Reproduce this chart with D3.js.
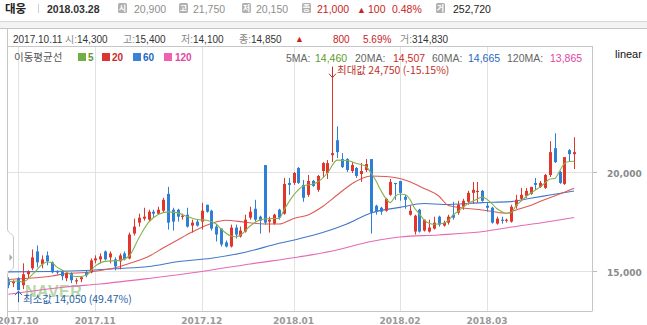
<!DOCTYPE html>
<html><head><meta charset="utf-8">
<script src="https://cdn.jsdelivr.net/npm/d3@7"></script>
<style>html,body{margin:0;padding:0;background:#fff;}svg{display:block;}</style>
</head><body>
<svg id="c" width="647" height="325"></svg>
<script>
// ---------------- DATA ----------------
const dates = [
"2017.09.28","2017.09.29",
"2017.10.10","2017.10.11","2017.10.12","2017.10.13","2017.10.16","2017.10.17","2017.10.18","2017.10.19","2017.10.20","2017.10.23","2017.10.24","2017.10.25","2017.10.26","2017.10.27","2017.10.30","2017.10.31",
"2017.11.01","2017.11.02","2017.11.03","2017.11.06","2017.11.07","2017.11.08","2017.11.09","2017.11.10","2017.11.13","2017.11.14","2017.11.15","2017.11.16","2017.11.17","2017.11.20","2017.11.21","2017.11.22","2017.11.23","2017.11.24","2017.11.27","2017.11.28","2017.11.29","2017.11.30",
"2017.12.01","2017.12.04","2017.12.05","2017.12.06","2017.12.07","2017.12.08","2017.12.11","2017.12.12","2017.12.13","2017.12.14","2017.12.15","2017.12.18","2017.12.19","2017.12.20","2017.12.21","2017.12.22","2017.12.26","2017.12.27","2017.12.28",
"2018.01.02","2018.01.03","2018.01.04","2018.01.05","2018.01.08","2018.01.09","2018.01.10","2018.01.11","2018.01.12","2018.01.15","2018.01.16","2018.01.17","2018.01.18","2018.01.19","2018.01.22","2018.01.23","2018.01.24","2018.01.25","2018.01.26","2018.01.29","2018.01.30","2018.01.31",
"2018.02.01","2018.02.02","2018.02.05","2018.02.06","2018.02.07","2018.02.08","2018.02.09","2018.02.12","2018.02.13","2018.02.14","2018.02.19","2018.02.20","2018.02.21","2018.02.22","2018.02.23","2018.02.26","2018.02.27","2018.02.28",
"2018.03.02","2018.03.05","2018.03.06","2018.03.07","2018.03.08","2018.03.09","2018.03.12","2018.03.13","2018.03.14","2018.03.15","2018.03.16","2018.03.19","2018.03.20","2018.03.21","2018.03.22","2018.03.23","2018.03.26","2018.03.27","2018.03.28"
];
const openP = [
14550,14400,14650,14300,14850,15150,16000,15350,15800,15450,15000,15000,14650,14900,14500,14600,14950,14950,
15550,15600,16000,15700,15600,15500,15900,15650,16900,17450,17650,17600,18000,17900,18050,18900,18100,18100,17750,17850,17300,17500,
17500,18350,18050,17250,17150,16450,16250,17200,16750,17000,17700,18150,17750,20350,17500,17400,18100,17900,19450,
19450,20200,19350,18850,19550,19100,20050,19950,20850,21600,20650,20650,20050,20200,19900,20100,20650,18300,18200,18050,18850,19450,
19550,18750,17850,17000,18100,17050,17000,17150,17750,17300,17450,17850,17950,18250,18500,18950,19000,19050,
18300,18200,17400,17600,17550,17500,18300,18650,18800,18900,19450,19250,19200,19850,21200,20000,19400,21100,20900
];
const highP = [
14700,14550,14700,15400,15050,16100,16300,15800,16000,15500,15050,15050,15000,14950,14650,14750,15050,15650,
15800,15900,16050,16000,15700,15900,16000,16950,17650,17900,18200,18100,18100,18250,18700,19250,18200,18150,17900,18200,17600,17600,
18450,18350,18100,17350,17150,16550,17350,17350,17250,17850,18250,18600,17800,20350,17750,17900,18150,19700,19700,
20000,20250,19600,19850,19600,19850,20500,20600,24750,22300,20950,20700,20500,20250,20450,20650,20650,18350,18250,18700,19650,19450,
19550,18850,18300,17850,18150,17600,17600,17750,17800,17550,17850,18500,18550,18650,19050,19500,19500,19100,
18450,18250,17750,17750,17650,18350,18850,19200,19200,19250,19700,19550,19900,21550,21950,20050,20750,21150,21750
];
const lowP = [
14150,14200,14050,14100,14650,15050,15200,15150,15300,14900,14850,14550,14500,14400,14350,14450,14700,14900,
15400,15400,15550,15400,15050,15100,15550,15600,16800,17250,17550,17500,17700,17850,17950,17100,17050,17500,17600,17200,16950,17250,
17100,17950,17050,16500,16250,16200,16200,16650,16700,16950,17600,17500,16900,17350,16950,17350,17600,17850,18850,
19350,19400,18500,18750,19250,19000,19700,19650,20500,20700,20200,20000,19950,19700,19500,20000,16900,17850,17850,18000,18800,18600,
18550,18150,17800,16850,16950,17000,16950,17100,17250,17250,17350,17600,17850,18100,18350,18400,18450,18500,
18000,17400,17350,17400,17450,17450,18150,18600,18700,18850,19100,19200,19150,19750,20450,19400,19350,20500,20150
];
const closeP = [
14300,14500,14050,14850,15000,15700,15450,15600,15500,14950,14950,14750,14900,14550,14550,14700,14800,15550,
15650,15750,15600,15900,15250,15800,15600,16850,17250,17700,17750,18000,17900,18100,18600,17450,17500,17750,17800,17250,17450,17300,
18050,18000,17150,16850,16350,16250,17200,16850,17050,17600,18000,17600,17550,17450,17600,17850,17700,19400,19350,
19950,19450,18700,19550,19300,19800,20450,20450,20950,21000,20250,20100,20350,19800,20050,20400,17950,18000,18000,18650,19500,19400,
18950,18600,18050,17800,17000,17600,17200,17450,17350,17450,17750,17700,18350,18550,18950,19100,19050,18550,
18200,17450,17650,17550,17600,18250,18600,18850,19050,19250,19350,19450,19850,21000,20500,19450,20750,20900,21000
];

const ma5 = [
["2017.09.28",14480],["2017.10.10",14510],["2017.10.11",14460],["2017.10.13",14840],["2017.10.17",15340],["2017.10.18",15470],["2017.10.19",15440],["2017.10.20",15220],["2017.10.24",14960],["2017.10.26",14730],["2017.10.30",14790],
["2017.11.01",15270],["2017.11.03",15500],["2017.11.08",15550],["2017.11.10",15770],["2017.11.14",16680],["2017.11.16",17460],["2017.11.20",17860],["2017.11.22",17990],["2017.11.24",17940],["2017.11.28",17760],["2017.11.30",17610],
["2017.12.04",17570],["2017.12.06",17380],["2017.12.07",17130],["2017.12.11",16780],["2017.12.12",16740],["2017.12.13",16830],["2017.12.15",17280],["2017.12.19",17580],["2017.12.21",17660],["2017.12.26",17660],["2017.12.27",18090],
["2018.01.02",18840],["2018.01.04",19300],["2018.01.08",19400],["2018.01.09",19500],["2018.01.11",19950],["2018.01.15",20600],["2018.01.17",20580],["2018.01.19",20430],["2018.01.23",20280],["2018.01.24",19950],["2018.01.25",19570],["2018.01.26",19090],["2018.01.29",18690],["2018.01.30",18460],["2018.01.31",18770],
["2018.02.01",18890],["2018.02.02",18870],["2018.02.05",18640],["2018.02.06",18190],["2018.02.07",17890],["2018.02.08",17580],["2018.02.12",17370],["2018.02.14",17420],["2018.02.19",17560],["2018.02.20",17840],["2018.02.21",18010],["2018.02.23",18410],["2018.02.27",18640],["2018.02.28",18740],
["2018.03.02",18620],["2018.03.05",18410],["2018.03.06",18160],["2018.03.07",18010],["2018.03.08",17920],["2018.03.09",17960],["2018.03.12",18310],["2018.03.13",18520],["2018.03.14",18740],["2018.03.15",18930],["2018.03.16",19090],["2018.03.19",19250],["2018.03.20",19450],["2018.03.21",19650],["2018.03.22",19670],["2018.03.23",20050],["2018.03.26",20430],["2018.03.27",20530],["2018.03.28",20540]
];
const ma20 = [
["2017.09.28",14590],["2017.10.13",14660],["2017.10.19",14760],["2017.10.24",14890],["2017.10.30",14940],["2017.11.02",15040],["2017.11.08",15230],["2017.11.13",15470],["2017.11.16",15750],["2017.11.21",16170],["2017.11.24",16580],["2017.11.29",16980],
["2017.12.05",17410],["2017.12.08",17570],["2017.12.14",17470],["2017.12.20",17380],["2017.12.26",17380],["2018.01.02",17660],["2018.01.05",17840],["2018.01.10",18260],["2018.01.15",18840],["2018.01.18",19400],["2018.01.24",19800],["2018.01.29",19770],
["2018.02.02",19600],["2018.02.08",19170],["2018.02.13",18790],["2018.02.19",18310],["2018.02.22",18190],["2018.02.28",18090],["2018.03.07",17940],["2018.03.08",17920],["2018.03.12",18090],["2018.03.15",18310],["2018.03.20",18620],["2018.03.23",18890],["2018.03.28",19180]
];
const ma60 = [
["2017.09.28",14970],["2017.10.19",14990],["2017.10.30",15040],["2017.11.08",15140],["2017.11.16",15240],["2017.11.24",15480],["2017.12.05",15660],["2017.12.14",15960],["2017.12.26",16410],
["2018.01.03",16630],["2018.01.10",16950],["2018.01.17",17380],["2018.01.24",17940],["2018.02.01",18220],["2018.02.08",18410],["2018.02.14",18360],["2018.02.28",18460],["2018.03.09",18510],["2018.03.15",18680],["2018.03.21",18840],["2018.03.28",19040]
];
const ma120 = [
["2017.09.28",13840],["2017.10.13",14010],["2017.10.24",14210],["2017.11.02",14360],["2017.11.16",14640],["2017.12.01",14990],["2017.12.15",15370],["2018.01.03",15720],
["2018.01.12",16020],["2018.01.24",16500],["2018.02.01",16730],["2018.02.13",16830],["2018.03.02",17030],["2018.03.09",17230],["2018.03.19",17430],["2018.03.28",17710]
];
const monthLabels = ["2017.10","2017.11","2017.12","2018.01","2018.02","2018.03"];
const priceTicks = [15000, 20000];
const maNames = ["5","20","60","120"];
const maLegendValues = [14460, 14507, 14665, 13865];   // MA values shown for 2017.10.11
const infoDate = "2017.10.11";
const infoVolume = 314830;
const lastVolume = 252720;
const stockName = "대웅";

// ---------------- LAYOUT ----------------
const W = 647, H = 325;
const L = 7, R = 592, T = 46, B = 311;
const FONT = "'Liberation Sans','Noto Sans CJK KR',sans-serif";
const KFONT = "'Noto Sans CJK KR','Liberation Sans',sans-serif";
const UP = "#e0362c", DOWN = "#2f7fd6";
const maColors = ["#86b24e", "#de5a55", "#3f78c9", "#e46ab6"];
const maTextColors = ["#5e9a2c", "#cc2a26", "#1f68c0", "#e0469f"];
const legendSq = ["#72ad45", "#dd3530", "#3a82d8", "#f062b0"];

const svg = d3.select("#c");
const fmt = d3.format(",");

const x = d3.scaleLinear().domain([-0.27, 120.7]).range([L, R]);
const y = d3.scaleLinear().domain([13000, 26345]).range([B, T]);
const idx = d => dates.indexOf(d);

function text(g, xx, yy, s, o = {}) {
  return g.append("text").attr("x", xx).attr("y", yy).text(s)
    .attr("font-family", o.family || FONT).attr("font-size", o.size || 10)
    .attr("font-weight", o.weight || "normal").attr("fill", o.fill || "#333")
    .attr("text-anchor", o.anchor || "start");
}

// ---------------- HEADER ----------------
const hd = svg.append("g");
text(hd, 5, 13, stockName, {family: KFONT, size: 11.5, weight: "bold", fill: "#222"});
hd.append("line").attr("x1", 38.5).attr("x2", 38.5).attr("y1", 4).attr("y2", 13).attr("stroke", "#d0d0d0");
const lastI = dates.length - 1;
text(hd, 47, 12.5, dates[lastI], {size: 10.5, weight: "bold", fill: "#333"});
function box(xx, ch) {
  hd.append("rect").attr("x", xx).attr("y", 3).attr("width", 9).attr("height", 10).attr("rx", 1.5).attr("fill", "#b0b0b0");
  text(hd, xx + 4.5, 11.3, ch, {family: KFONT, size: 8, fill: "#fff", anchor: "middle", weight: "bold"});
}
box(118, "시"); text(hd, 134, 12.5, fmt(openP[lastI]), {size: 10.5, fill: "#8e8e8e"});
box(179, "고"); text(hd, 193, 12.5, fmt(highP[lastI]), {size: 10.5, fill: "#8e8e8e"});
box(242, "저"); text(hd, 256, 12.5, fmt(lowP[lastI]), {size: 10.5, fill: "#8e8e8e"});
box(302, "종"); text(hd, 317, 12.5, fmt(closeP[lastI]), {size: 10.5, fill: "#c8231d"});
const chg = closeP[lastI] - closeP[lastI - 1];
text(hd, 357, 12.5, "▲", {size: 9, fill: "#c8231d"});
text(hd, 368, 12.5, fmt(chg), {size: 10.5, fill: "#c8231d"});
text(hd, 392, 12.5, (chg / closeP[lastI - 1] * 100).toFixed(2) + "%", {size: 10.5, fill: "#c8231d"});
box(436, "거"); text(hd, 453, 12.5, fmt(lastVolume), {size: 10.5, fill: "#222"});

// separator band
svg.append("rect").attr("x", 0).attr("y", 21).attr("width", W).attr("height", 7).attr("fill", "#f3f3f3");
svg.append("line").attr("x1", 0).attr("x2", W).attr("y1", 21.5).attr("y2", 21.5).attr("stroke", "#d6d6d6");
svg.append("line").attr("x1", 0).attr("x2", W).attr("y1", 28.5).attr("y2", 28.5).attr("stroke", "#c4c4c4");

// info bar for 2017.10.11
const ib = svg.append("g");
const ii = idx(infoDate);
text(ib, 13, 42.5, infoDate, {size: 10, fill: "#333"});
const infoSeg = [["시", openP[ii]], ["고", highP[ii]], ["저", lowP[ii]], ["종", closeP[ii]]];
infoSeg.forEach((s, k) => {
  const t = text(ib, 65 + k * 58, 42.5, "", {size: 10, fill: "#333"});
  t.append("tspan").attr("fill", "#888").attr("font-family", KFONT).text(s[0]);
  t.append("tspan").attr("fill", "#888").text(":");
  t.append("tspan").text(fmt(s[1]));
});
const ichg = closeP[ii] - closeP[ii - 1];
text(ib, 295, 42, "▲", {size: 9, fill: "#d0201c"});
text(ib, 333, 42.5, fmt(ichg), {size: 10, fill: "#c8231d"});
text(ib, 363, 42.5, (ichg / closeP[ii - 1] * 100).toFixed(2) + "%", {size: 10, fill: "#c8231d"});
{
  const t = text(ib, 400, 42.5, "", {size: 10, fill: "#333"});
  t.append("tspan").attr("fill", "#888").attr("font-family", KFONT).text("거");
  t.append("tspan").attr("fill", "#888").text(":");
  t.append("tspan").text(fmt(infoVolume));
}

// ---------------- GRID + FRAME ----------------
const grid = svg.append("g");
const monthIdx = monthLabels.map(m => dates.findIndex(d => d.startsWith(m)));
monthIdx.forEach(i => {
  const xx = Math.round(x(i)) + 0.5;
  grid.append("line").attr("x1", xx).attr("x2", xx).attr("y1", T).attr("y2", B).attr("stroke", "#e2e2e2");
});
priceTicks.forEach(p => {
  const yy = Math.round(y(p)) + 0.5;
  grid.append("line").attr("x1", L).attr("x2", R).attr("y1", yy).attr("y2", yy).attr("stroke", "#e2e2e2");
  grid.append("line").attr("x1", R).attr("x2", R + 5).attr("y1", yy).attr("y2", yy).attr("stroke", "#bcbcbc");
  text(grid, 607, yy + 4.5, fmt(p), {family: "'DejaVu Sans',sans-serif", size: 9, weight: "bold", fill: "#8a8a8a"});
});
monthLabels.forEach((m, k) => {
  text(grid, x(monthIdx[k]), 324, m, {family: "'DejaVu Sans',sans-serif", size: 9, weight: "bold", fill: "#999", anchor: "middle"});
});
const frame = svg.append("g").attr("fill", "none").attr("stroke", "#c6c6c6");
frame.append("line").attr("x1", L).attr("x2", R).attr("y1", T + 0.5).attr("y2", T + 0.5);
frame.append("line").attr("x1", R + 0.5).attr("x2", R + 0.5).attr("y1", T).attr("y2", B);
frame.append("line").attr("x1", L).attr("x2", R + 0.5).attr("y1", B + 0.5).attr("y2", B + 0.5);
frame.append("path").attr("d", `M${L+0.5},28 V229 C${L+0.5},234 13.5,233 13.5,238 V266 C13.5,271 ${L+0.5},270 ${L+0.5},275 V325`);
svg.append("path").attr("d", "M9.5,254 L12.5,257.5 L9.5,261 Z").attr("fill", "#a8a8a8");
text(svg, 615, 58, "linear", {size: 11, fill: "#111"});

// ---------------- PLOT ----------------
svg.append("defs").append("clipPath").attr("id", "clip")
  .append("rect").attr("x", L + 1).attr("y", T + 1).attr("width", R - L - 1).attr("height", B - T - 1);
const plot = svg.append("g").attr("clip-path", "url(#clip)");

// watermark
text(plot, 25, 297, "NAVER", {size: 16, weight: "bold", fill: "#79b95c"}).attr("opacity", 0.55).attr("letter-spacing", 0.5);

// moving averages
const line = d3.line().x(d => x(idx(d[0]))).y(d => y(d[1])).curve(d3.curveMonotoneX);
[ma120, ma60, ma20].forEach((s, k) => {
  plot.append("path").attr("d", line(s)).attr("fill", "none")
    .attr("stroke", maColors[3 - k]).attr("stroke-width", 1.1);
});

// candles
const cg = plot.append("g");
dates.forEach((d, i) => {
  const cx = Math.round(x(i));
  const o = openP[i], c = closeP[i];
  const col = c >= o ? UP : DOWN;
  cg.append("line").attr("x1", cx + 0.5).attr("x2", cx + 0.5)
    .attr("y1", y(highP[i])).attr("y2", y(lowP[i])).attr("stroke", col).attr("stroke-width", 1);
  const top = Math.min(y(o), y(c)), h = Math.max(1.2, Math.abs(y(o) - y(c)));
  cg.append("rect").attr("x", cx - 1).attr("width", 3).attr("y", top).attr("height", h).attr("fill", col);
});
plot.append("path").attr("d", line(ma5)).attr("fill", "none").attr("stroke", maColors[0]).attr("stroke-width", 1.1);

// legend row
const lg = svg.append("g");
text(lg, 14, 61, "이동평균선", {family: KFONT, size: 10.5, fill: "#555"});
const sqX = [78, 102, 133, 164], numX = [88, 112, 143, 175];
maNames.forEach((n, k) => {
  lg.append("rect").attr("x", sqX[k]).attr("y", 53).attr("width", 8).attr("height", 8).attr("fill", legendSq[k]);
  text(lg, numX[k], 61, n, {size: 10, weight: "bold", fill: maTextColors[k]});
});
const maLabX = [286, 355, 432, 507], maValX = [315, 393, 468, 550];
maNames.forEach((n, k) => {
  text(lg, maLabX[k], 61.5, n + "MA:", {size: 10.5, fill: "#666"});
  text(lg, maValX[k], 61.5, fmt(maLegendValues[k]), {size: 10.5, fill: maTextColors[k]});
});

// max / min markers
const last = closeP[lastI];
const maxV = d3.max(highP), maxI = highP.indexOf(maxV);
const minV = d3.min(lowP), minI = lowP.indexOf(minV);
const mx = Math.round(x(maxI)) + 0.5, my = y(maxV);
svg.append("path").attr("d", `M${mx},${my - 11} V${my} M${mx - 3.5},${my - 4} L${mx},${my} L${mx + 3.5},${my - 4}`)
  .attr("fill", "none").attr("stroke", "#c0302a").attr("stroke-width", 1);
text(svg, mx + 4.5, 74, `최대값 ${fmt(maxV)} (${((last / maxV - 1) * 100).toFixed(2)}%)`, {family: KFONT, size: 10.5, fill: "#c0302a"});
const nx = Math.round(x(minI)) + 0.5, ny = y(minV);
plot.append("path").attr("d", `M${nx},${ny + 12} V${ny + 1} M${nx - 3.5},${ny + 5} L${nx},${ny + 1} L${nx + 3.5},${ny + 5}`)
  .attr("fill", "none").attr("stroke", "#2a62a8").attr("stroke-width", 1);
text(plot, nx + 4.5, 303, `최소값 ${fmt(minV)} (${((last / minV - 1) * 100).toFixed(2)}%)`, {family: KFONT, size: 10.5, fill: "#2a62a8"});
</script>
</body></html>
